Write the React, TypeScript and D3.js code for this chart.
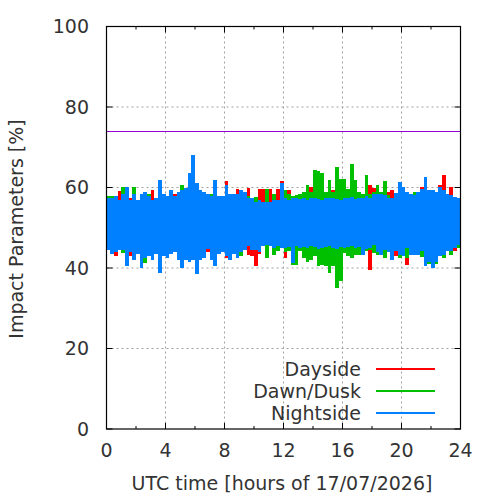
import * as d3 from 'd3';

// 15-minute bins over the day: envelope (max / min) of each region's values
const binStep = 0.25;

const dayHi = [
    57, 56, 56.5, 59.2, 56.5, 57, 57.3, 56.5, 56, 57, 57, 56.5, 59.5, 56, 57, 57, 56.5, 57, 58.5, 57, 57.5, 59, 58, 58, 58,
    57, 57, 57, 56.5, 57, 57, 56.5, 61.5, 56.5, 57, 59.75, 57, 57, 60, 56, 56, 59.7, 59.7, 56, 59.7, 56, 59.7, 61.5,
    59.3, 59.3, 56.5, 58, 56, 58, 56.5, 60.2, 56, 56.5, 56, 56.5, 61, 59.3, 56.5, 57, 56.5, 58.9, 56.5, 57, 56, 56.5, 62.2, 60.5, 59.8,
    57, 58.9, 60.6, 58.9, 59.3, 57, 57, 58.9, 58.5, 58.1, 57, 57, 60.2, 57, 57.3, 57, 57, 60.6, 63, 57, 60.2, 56.5, 55.5,
];
const dayLo = [
    46, 45.5, 43, 45.5, 45.5, 45, 43, 45, 45.5, 45, 45, 45.5, 45, 45.5, 45, 45.5, 45, 45.5, 45, 45.5, 45, 45.5, 45, 45.5, 45,
    45, 45.5, 44, 45, 45.5, 45, 45.5, 42.5, 45.8, 45, 45.5, 45, 45.5, 43.3, 42.9, 40.4, 43.5, 46, 46, 46, 46, 45, 46,
    42.5, 45.5, 43.3, 45.5, 46, 45.5, 46, 45.5, 46, 41.6, 46, 45.5, 46, 45.5, 46, 45.5, 46, 44.5, 46, 45.5, 46, 45.5, 46, 39.6, 43.7,
    45.5, 45, 45.5, 45, 42.9, 42.9, 45, 45, 40.8, 44.1, 45, 45, 45.5, 45, 45, 45, 44.1, 42.9, 45, 45, 45, 44.1, 45,
];
const duskHi = [
    58, 58, 56, 56, 60.2, 57, 56, 60.2, 56, 57, 57.5, 58.3, 56, 56.5, 57, 56.5, 57, 57, 56.5, 57, 60.5, 58, 57, 57.5, 57,
    57, 57.3, 56.5, 58.5, 56.5, 56.5, 57, 57, 56.5, 56, 56.5, 56.5, 56.5, 58, 56, 57.7, 56, 56, 59.7, 56, 58.5, 56.5, 57,
    59.5, 58.5, 58, 58.2, 58.5, 59, 60.5, 59, 64.3, 64, 63.5, 59, 61.8, 59, 65.1, 62.2, 62, 59.7, 65.9, 61.8, 59, 58.5, 63, 58.5, 58.8,
    60.6, 59, 61.6, 58.1, 56.5, 57.3, 57, 57, 57, 56.5, 58.9, 58.1, 57, 58.9, 57, 58.9, 57, 58.5, 58.1, 56.5, 58.1, 56, 55.5,
];
const duskLo = [
    45.5, 45, 45.5, 45, 43.7, 44, 45, 44.5, 45, 44.5, 41.2, 44.5, 44, 45, 43, 44.5, 44.5, 45, 45.5, 44.5, 43.3, 44, 44.5, 44.5, 44,
    44, 44, 45, 44, 43.5, 45, 45, 44.5, 44, 45, 44, 42.9, 45.5, 46, 45.8, 45.5, 45.5, 46, 42.5, 46, 43.3, 44.1, 45.8,
    44, 44.1, 40.8, 40.8, 44.1, 42.5, 41.6, 42, 43, 40.4, 40.8, 40.4, 38.8, 40.4, 35, 36.7, 43.7, 43, 42.5, 43.3, 43.3, 44.5, 44.1, 44.5, 43.7,
    43.3, 44.1, 42.5, 45, 44, 45, 42.5, 44.5, 42.5, 44.5, 44.5, 44.5, 42.8, 44, 41, 43, 41, 44, 42.5, 45, 43.3, 45.5, 45,
];
const nightHi = [
    57.5, 57.5, 58, 57, 58.5, 60.2, 57, 58.5, 57, 58.5, 59, 58, 57, 57.5, 61.8, 58.5, 58, 59.5, 58, 59, 59.5, 60, 63.5, 68, 61,
    59.5, 59, 58.5, 58, 61.8, 58, 58, 60.5, 58.5, 58.5, 58.3, 59.5, 59, 57.5, 57.3, 56.5, 56.8, 56.5, 56.5, 56.5, 57, 57, 61, 57.5,
    57, 57.3, 57.5, 57.2, 57.4, 57, 57.3, 57.5, 57.2, 57, 57.4, 57.3, 57.5, 57.2, 57, 57.4, 57.3, 57.6, 57.2, 57.5, 57.4, 57.8, 57.5,
    58.3, 58.5, 58.5, 58.1, 57.3, 57.3, 58.7, 61.4, 60.2, 58.9, 58.5, 58.1, 58.9, 59.7, 62.6, 59.3, 59.3, 58.9, 60.2, 59.3, 58.5, 58.1, 57.7, 57.3,
];
const nightLo = [
    44.5, 43.5, 44, 44.5, 44.5, 40.5, 44, 42, 43.5, 40, 42.5, 43, 42, 43.5, 38.8, 43, 42.5, 43.5, 44, 42, 40, 42, 41.5, 42, 38.5,
    42, 42.5, 44.8, 42, 40.5, 43.5, 44, 43, 42, 43.5, 42.5, 44, 44.5, 45.5, 44.5, 44.5, 44, 45.5, 45.8, 45.5, 45, 45.5, 45, 45,
    45.2, 41.2, 45.5, 45, 45.3, 45, 45.5, 45.2, 44.8, 45, 45.3, 45.5, 45, 44.8, 45.2, 45, 45.3, 45.5, 45, 45.2, 43.3, 44.8, 45,
    45.8, 44, 43.3, 44.5, 44, 42.1, 44.1, 43.3, 43, 44.9, 43.3, 43.3, 43.3, 44.1, 40.4, 41.6, 40, 41.6, 42.9, 43.3, 44.1, 44.1, 44.9, 45.8,
];

const seriesNames = ['Dayside', 'Dawn/Dusk', 'Nightside'];
const seriesColors = ['#ff0000', '#00c000', '#0080ff'];
const seriesData = [
    [dayHi, dayLo],
    [duskHi, duskLo],
    [nightHi, nightLo],
];

const xTicks = [0, 4, 8, 12, 16, 20, 24];
const xMinorTicks = [2, 6, 10, 14, 18, 22];
const yTicks = [0, 20, 40, 60, 80, 100];
const threshold = 74;

export default function App() {
    const w = 500;
    const h = 500;
    const left = 106.5;
    const right = 460.5;
    const top = 26.5;
    const bottom = 429;
    const font = '"DejaVu Sans", Verdana, sans-serif';
    const textColor = '#333';
    const fs = 19;

    const x = d3.scaleLinear().domain([0, 24]).range([left, right]);
    const y = d3.scaleLinear().domain([0, 100]).range([bottom, top]);

    return (
        <svg width={w} height={h} style={{ position: 'absolute', left: 0, top: 0, background: '#fff' }}>
            <rect x={0} y={0} width={w} height={h} fill="#fff" />
            {/* grid */}
            <g stroke="#a0a0a0" strokeWidth={1} strokeDasharray="2,3">
                {xTicks.slice(1, -1).map((t) => (
                    <line key={'gx' + t} x1={x(t)} x2={x(t)} y1={top} y2={bottom} />
                ))}
                {yTicks.slice(1, -1).map((t) => (
                    <line key={'gy' + t} x1={left} x2={right} y1={y(t)} y2={y(t)} />
                ))}
            </g>
            {/* data envelopes */}
            {seriesData.map(([hi, lo], s) => (
                <g key={seriesNames[s]} fill={seriesColors[s]} shapeRendering="crispEdges">
                    {hi.map((v, i) => (
                        <rect
                            key={i}
                            x={x(i * binStep)}
                            width={x((i + 1) * binStep) - x(i * binStep)}
                            y={y(v)}
                            height={y(lo[i]) - y(v)}
                        />
                    ))}
                </g>
            ))}
            {/* threshold */}
            <line
                x1={left}
                x2={right}
                y1={y(threshold)}
                y2={y(threshold)}
                stroke="#9400d3"
                strokeWidth={1}
                shapeRendering="crispEdges"
            />
            {/* ticks */}
            <g stroke="#000" strokeWidth={1}>
                {xTicks.map((t) => (
                    <g key={'tx' + t}>
                        <line x1={x(t)} x2={x(t)} y1={bottom} y2={bottom - 6} />
                        <line x1={x(t)} x2={x(t)} y1={top} y2={top + 6} />
                    </g>
                ))}
                {xMinorTicks.map((t) => (
                    <g key={'mx' + t}>
                        <line x1={x(t)} x2={x(t)} y1={bottom} y2={bottom - 3} />
                        <line x1={x(t)} x2={x(t)} y1={top} y2={top + 3} />
                    </g>
                ))}
                {yTicks.map((t) => (
                    <g key={'ty' + t}>
                        <line x1={left} x2={left + 6} y1={y(t)} y2={y(t)} />
                        <line x1={right} x2={right - 6} y1={y(t)} y2={y(t)} />
                    </g>
                ))}
            </g>
            <rect x={left} y={top} width={right - left} height={bottom - top} fill="none" stroke="#000" strokeWidth={1.2} />
            {/* tick labels */}
            <g fontFamily={font} fontSize={fs} fill={textColor}>
                {yTicks.map((t) => (
                    <text key={'ly' + t} x={89} y={y(t)} dy="0.36em" textAnchor="end">
                        {t}
                    </text>
                ))}
                {xTicks.map((t) => (
                    <text key={'lx' + t} x={x(t)} y={450} dy="0.36em" textAnchor="middle">
                        {t}
                    </text>
                ))}
                <text x={282} y={483} dy="0.36em" textAnchor="middle">
                    UTC time [hours of 17/07/2026]
                </text>
                <text transform="translate(16,229) rotate(-90)" dy="0.36em" textAnchor="middle">
                    Impact Parameters [%]
                </text>
            </g>
            {/* legend */}
            <g fontFamily={font} fontSize={fs} fill={textColor}>
                {seriesNames.map((name, i) => (
                    <g key={name} transform={`translate(0,${369 + i * 22})`}>
                        <text x={361} y={0} dy="0.36em" textAnchor="end">
                            {name}
                        </text>
                        <line x1={376} x2={435} y1={0} y2={0} stroke={seriesColors[i]} strokeWidth={2} />
                    </g>
                ))}
            </g>
        </svg>
    );
}
